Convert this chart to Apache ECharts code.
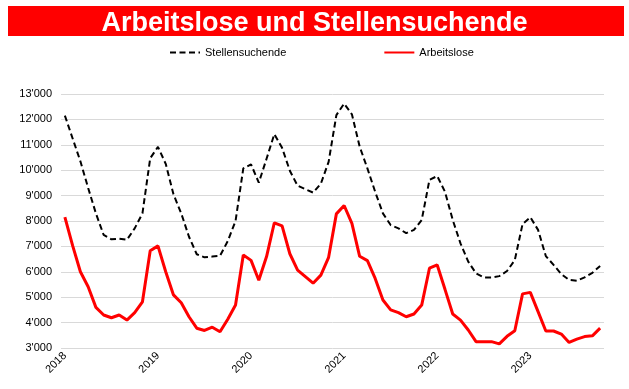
<!DOCTYPE html>
<html>
<head>
<meta charset="utf-8">
<script src="https://cdn.jsdelivr.net/npm/echarts@6/dist/echarts.min.js"></script>
<style>
html,body{margin:0;padding:0;background:#fff;}
#c{width:629px;height:389px;}
</style>
</head>
<body>
<div id="c"></div>
<script>
const titleText = 'Arbeitslose und Stellensuchende';
const seriesNames = ['Stellensuchende', 'Arbeitslose'];
const years = ['2018', '2019', '2020', '2021', '2022', '2023'];
const monthsInLastYear = 10;

const stellensuchende = [
  12150, 11250, 10350, 9300, 8300, 7450, 7280, 7300, 7260, 7710, 8300, 10470,
  10920, 10250, 9050, 8300, 7380, 6690, 6570, 6600, 6630, 7210, 8000, 10070,
  10230, 9510, 10450, 11420, 10880, 9980, 9390, 9250, 9120, 9470, 10330, 12170,
  12620, 12200, 10930, 10070, 9150, 8300, 7840, 7710, 7520, 7650, 8040, 9620,
  9770, 9150, 8040, 7120, 6400, 5940, 5780, 5780, 5830, 6030, 6460, 7880,
  8150, 7650, 6620, 6270, 5910, 5680, 5650, 5780, 5960, 6230
];
const arbeitslose = [
  8150, 7030, 6000, 5410, 4600, 4300, 4190, 4300, 4100, 4390, 4820, 6830,
  7020, 6000, 5090, 4780, 4230, 3780, 3690, 3820, 3640, 4130, 4690, 6660,
  6450, 5670, 6600, 7930, 7810, 6710, 6070, 5810, 5550, 5870, 6570, 8280,
  8610, 7910, 6610, 6440, 5740, 4890, 4500, 4390, 4230, 4340, 4690, 6140,
  6270, 5310, 4340, 4100, 3710, 3250, 3250, 3250, 3160, 3460, 3680, 5130,
  5190, 4430, 3670, 3670, 3550, 3220, 3350, 3450, 3480, 3780
];

const categories = [];
years.forEach(function (y, yi) {
  const n = yi === years.length - 1 ? monthsInLastYear : 12;
  for (let m = 1; m <= n; m++) categories.push(y + '-' + (m < 10 ? '0' + m : m));
});

function fmtThousands(v) {
  return String(v).replace(/\B(?=(\d{3})+(?!\d))/g, "'");
}

const chart = echarts.init(document.getElementById('c'));
const font = '"Liberation Sans", Arial, sans-serif';
chart.setOption({
  animation: false,
  textStyle: { fontFamily: font },
  graphic: [
    { type: 'rect', left: 8, top: 6, shape: { width: 616, height: 30 }, style: { fill: '#ff0000' }, z: 0 },
    { type: 'text', left: 'center', top: 10, style: { text: titleText, fill: '#fff', font: 'bold 27px ' + font }, z: 1 }
  ],
  legend: {
    left: 164, top: 42,
    itemWidth: 30, itemHeight: 12, itemGap: 97,
    itemStyle: { opacity: 0 },
    textStyle: { fontSize: 11, color: '#000', fontFamily: font },
    data: seriesNames
  },
  grid: { left: 61, right: 25, top: 94, bottom: 41, containLabel: false },
  xAxis: {
    type: 'category',
    data: categories,
    boundaryGap: true,
    axisLine: { show: false },
    axisTick: { show: false },
    axisLabel: {
      interval: 11, rotate: 45, margin: 6,
      fontSize: 11, color: '#000', fontFamily: font,
      formatter: function (v) { return v.slice(0, 4); }
    },
    splitLine: { show: false }
  },
  yAxis: {
    type: 'value', min: 3000, max: 13000, interval: 1000,
    axisLine: { show: false }, axisTick: { show: false },
    axisLabel: { fontSize: 11, color: '#000', margin: 9, fontFamily: font, formatter: fmtThousands },
    splitLine: { lineStyle: { color: '#d9d9d9', width: 1 } }
  },
  series: [
    { name: seriesNames[0], type: 'line', data: stellensuchende, symbol: 'none',
      lineStyle: { color: '#000', width: 2, type: [6, 3.5] }, itemStyle: { color: '#000' } },
    { name: seriesNames[1], type: 'line', data: arbeitslose, symbol: 'none',
      lineStyle: { color: '#ff0000', width: 3 }, itemStyle: { color: '#ff0000' } }
  ]
});
</script>
</body>
</html>
